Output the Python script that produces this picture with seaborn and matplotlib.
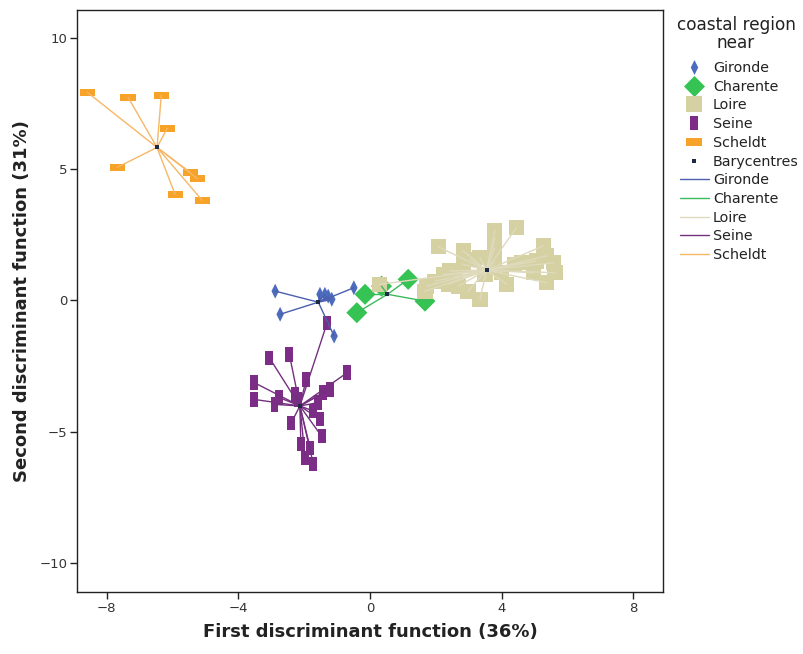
import numpy as np
import pandas as pd
import matplotlib
matplotlib.use("Agg")
import matplotlib.pyplot as plt
from matplotlib.lines import Line2D
from matplotlib.path import Path
import seaborn as sns

# ---- discriminant scores per coastal region ----
gironde_x = [-2.88, -2.73, -1.52, -1.37, -1.27, -1.16, -0.49, -1.09]
gironde_y = [0.35, -0.53, 0.23, 0.23, 0.16, 0.04, 0.48, -1.36]

charente_x = [-0.15, -0.40, 0.35, 1.16, 1.67]
charente_y = [0.23, -0.47, 0.54, 0.80, -0.03]

loire_x = [2.07, 3.79, 4.45, 5.26, 2.83, 3.79, 3.34, 3.04, 2.83, 2.43, 2.23,
           1.97, 1.72, 1.67, 2.68, 2.98, 3.34, 4.15, 4.00, 4.40, 4.61, 5.06,
           5.36, 5.57, 5.62, 5.36, 4.96, 3.69, 3.49, 3.79, 2.58, 2.38, 0.30,
           3.79]
loire_y = [2.04, 2.64, 2.77, 2.07, 1.88, 2.00, 1.62, 1.56, 1.37, 1.12, 0.99,
           0.73, 0.54, 0.35, 0.54, 0.35, 0.04, 0.61, 1.05, 1.37, 1.43, 1.50,
           1.69, 1.43, 1.05, 0.67, 1.05, 1.24, 0.99, 1.50, 0.86, 0.61, 0.61,
           2.35]

seine_x = [-3.06, -2.45, -3.52, -3.52, -2.76, -2.90, -1.94, -0.69, -1.21,
           -1.42, -1.57, -1.72, -1.52, -2.39, -1.47, -2.10, -1.82, -1.97,
           -1.72, -2.18, -2.28, -1.30]
seine_y = [-2.18, -2.06, -3.13, -3.77, -3.70, -3.96, -3.01, -2.75, -3.39,
           -3.51, -3.89, -4.21, -4.53, -4.66, -5.17, -5.48, -5.61, -5.99,
           -6.24, -3.77, -3.58, -0.85]

scheldt_x = [-8.59, -7.35, -6.34, -6.16, -7.68, -5.92, -5.46, -5.25, -5.10]
scheldt_y = [7.92, 7.73, 7.80, 6.55, 5.06, 4.03, 4.87, 4.64, 3.81]

# group barycentres
regions = ["Gironde", "Charente", "Loire", "Seine", "Scheldt"]
centre_x = [-1.57, 0.53, 3.54, -2.13, -6.47]
centre_y = [-0.07, 0.23, 1.15, -4.02, 5.82]

x_ticks = [-8, -4, 0, 4, 8]
y_ticks = [-10, -5, 0, 5, 10]

# ---- styling ----
point_colors = {"Gironde": "#4E6CBE", "Charente": "#35C453",
                "Loire": "#D6D1A3", "Seine": "#7D2D88", "Scheldt": "#F7A228"}
line_colors = {"Gironde": "#4A5FAE", "Charente": "#3DBA5C",
               "Loire": "#DEDABB", "Seine": "#74307F", "Scheldt": "#F6B766"}


def poly(pts):
    return Path(pts + [pts[0]], closed=True)


shapes = {
    "Gironde": poly([(0, 1), (0.5, 0), (0, -1), (-0.5, 0)]),
    "Charente": poly([(0, 1), (1, 0), (0, -1), (-1, 0)]),
    "Loire": poly([(-1, -1), (1, -1), (1, 1), (-1, 1)]),
    "Seine": poly([(-0.55, -1), (0.55, -1), (0.55, 1), (-0.55, 1)]),
    "Scheldt": poly([(-1, -0.47), (1, -0.47), (1, 0.47), (-1, 0.47)]),
}
sizes = {"Gironde": 115, "Charente": 230, "Loire": 120, "Seine": 105,
         "Scheldt": 118}

xs = [gironde_x, charente_x, loire_x, seine_x, scheldt_x]
ys = [gironde_y, charente_y, loire_y, seine_y, scheldt_y]

points = pd.concat(
    [pd.DataFrame({"x": gx, "y": gy, "region": r})
     for r, gx, gy in zip(regions, xs, ys)],
    ignore_index=True)

centres = pd.DataFrame({"region": regions, "cx": centre_x, "cy": centre_y})

# star segments: each observation joined to its barycentre
pts = points.merge(centres, on="region")
pts["seg"] = np.arange(len(pts))
segments = pd.concat([
    pts[["seg", "region", "x", "y"]],
    pts[["seg", "region", "cx", "cy"]].rename(columns={"cx": "x", "cy": "y"}),
], ignore_index=True).sort_values(["seg"], kind="stable")

sns.set_style("ticks")
plt.rcParams["font.family"] = ["DejaVu Sans"]

fig = plt.figure(figsize=(8.04, 6.54), dpi=100)
ax = fig.add_axes([77 / 804, 1 - 592 / 654, (663 - 77) / 804, (592 - 10) / 654])

sns.scatterplot(data=points, x="x", y="y", hue="region", style="region",
                size="region", palette=point_colors, markers=shapes,
                sizes=sizes, linewidth=0, alpha=1, legend=False, ax=ax)

sns.lineplot(data=segments, x="x", y="y", hue="region", units="seg",
             estimator=None, sort=False, palette=line_colors, lw=1.0,
             legend=False, ax=ax)

sns.scatterplot(data=centres, x="cx", y="cy", color="#1C2A45",
                marker="s", s=9, linewidth=0, legend=False, ax=ax, zorder=4)

ax.set_xlim(-8.9, 8.9)
ax.set_ylim(-11.1, 11.05)
ax.set_xticks(x_ticks)
ax.set_yticks(y_ticks)
ax.tick_params(axis="both", direction="out", length=5, width=1,
               color="#222222", labelsize=9.5, labelcolor="#333333", pad=2)
for sp in ax.spines.values():
    sp.set_visible(True)
    sp.set_linewidth(1.0)
    sp.set_color("#222222")

ax.set_xlabel("First discriminant function (36%)", fontsize=13,
              fontweight="bold", color="#222222", labelpad=6)
ax.set_ylabel("Second discriminant function (31%)", fontsize=13,
              fontweight="bold", color="#222222", labelpad=6)

# legend: marker keys, barycentre key, then line keys
handles = []
for r in regions:
    handles.append(Line2D([], [], linestyle="none", marker=shapes[r],
                          markersize=np.sqrt(sizes[r]),
                          markerfacecolor=point_colors[r],
                          markeredgewidth=0, label=r))
handles.append(Line2D([], [], linestyle="none", marker="s", markersize=3.5,
                      markerfacecolor="#1C2A45", markeredgewidth=0,
                      label="Barycentres"))
for r in regions:
    handles.append(Line2D([], [], color=line_colors[r], lw=1.0, label=r))

leg = fig.legend(handles=handles, loc="upper left",
                 bbox_to_anchor=(680 / 804, 1 - 61 / 654), frameon=False,
                 fontsize=10.3, handlelength=2.0, handletextpad=0.3,
                 labelspacing=0.33, borderaxespad=0, borderpad=0)
for t in leg.get_texts():
    t.set_color("#222222")

fig.text(736 / 804, 1 - 34 / 654, "coastal region\nnear", ha="center",
         va="center", fontsize=12.2, linespacing=0.95, color="#222222")

fig.savefig("out.png", dpi=100)
